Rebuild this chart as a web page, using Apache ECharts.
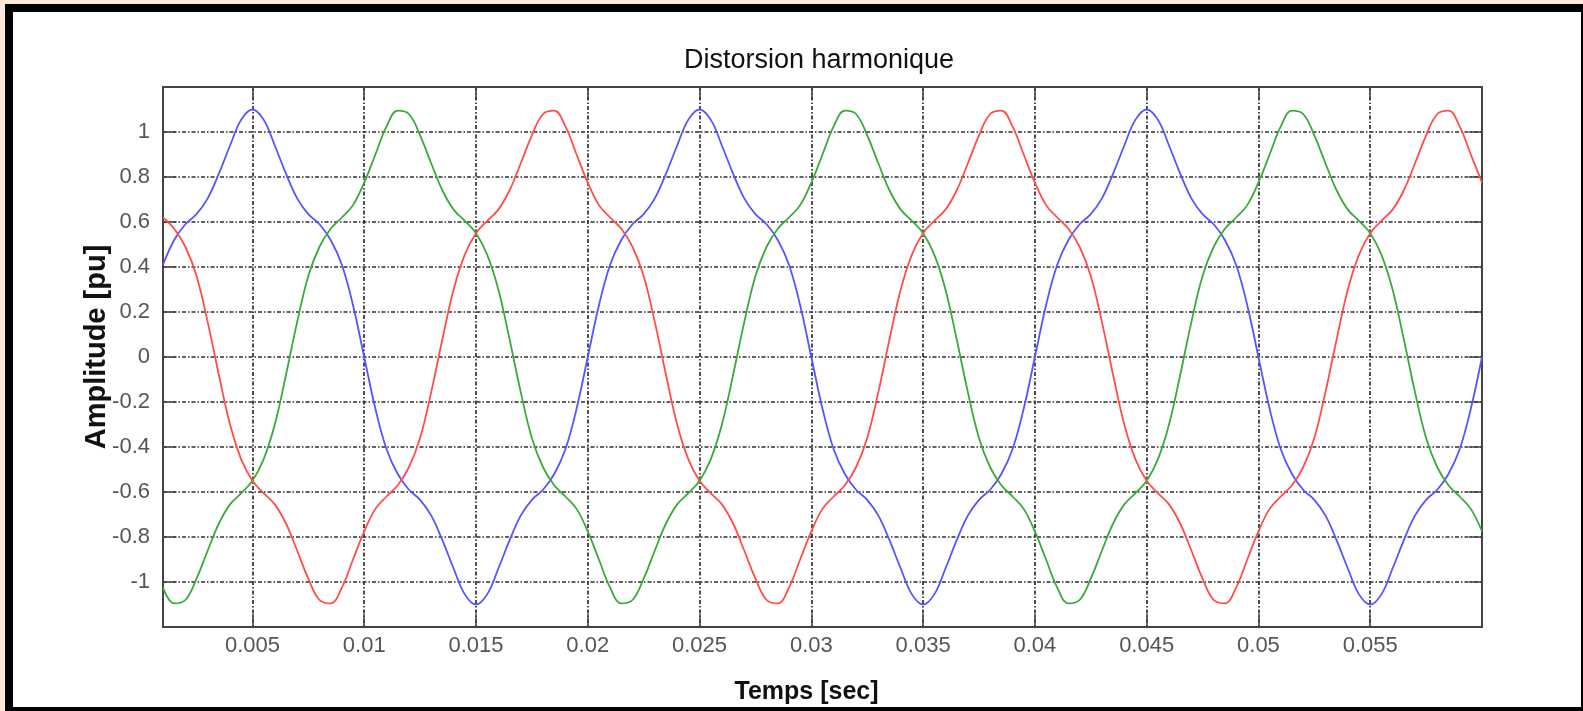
<!DOCTYPE html>
<html>
<head>
<meta charset="utf-8">
<title>Distorsion harmonique</title>
<script src="https://cdn.jsdelivr.net/npm/echarts@6/dist/echarts.min.js"></script>
<style>
  html, body { margin: 0; padding: 0; width: 1583px; height: 711px; overflow: hidden; background: #fde9db; }
  #frame { position: absolute; left: 5px; top: 4px; width: 1578px; height: 707px; background: #000; }
  #paper { position: absolute; left: 13px; top: 12px; width: 1568px; height: 695px; background: #fff; }
  #chart { position: absolute; left: 0; top: 0; width: 1583px; height: 711px; }
</style>
</head>
<body>
<div id="frame"></div>
<div id="paper"></div>
<div id="chart"></div>
<script>
// Sample instants (s)
const time = [
  0.001, 0.0015, 0.002, 0.0025, 0.003, 0.0035, 0.004, 0.0045, 0.005, 0.0055,
  0.006, 0.0065, 0.007, 0.0075, 0.008, 0.0085, 0.009, 0.0095, 0.01, 0.0105,
  0.011, 0.0115, 0.012, 0.0125, 0.013, 0.0135, 0.014, 0.0145, 0.015, 0.0155,
  0.016, 0.0165, 0.017, 0.0175, 0.018, 0.0185, 0.019, 0.0195, 0.02, 0.0205,
  0.021, 0.0215, 0.022, 0.0225, 0.023, 0.0235, 0.024, 0.0245, 0.025, 0.0255,
  0.026, 0.0265, 0.027, 0.0275, 0.028, 0.0285, 0.029, 0.0295, 0.03, 0.0305,
  0.031, 0.0315, 0.032, 0.0325, 0.033, 0.0335, 0.034, 0.0345, 0.035, 0.0355,
  0.036, 0.0365, 0.037, 0.0375, 0.038, 0.0385, 0.039, 0.0395, 0.04, 0.0405,
  0.041, 0.0415, 0.042, 0.0425, 0.043, 0.0435, 0.044, 0.0445, 0.045, 0.0455,
  0.046, 0.0465, 0.047, 0.0475, 0.048, 0.0485, 0.049, 0.0495, 0.05, 0.0505,
  0.051, 0.0515, 0.052, 0.0525, 0.053, 0.0535, 0.054, 0.0545, 0.055, 0.0555,
  0.056, 0.0565, 0.057, 0.0575, 0.058, 0.0585, 0.059, 0.0595, 0.06
];

// Phase voltages (pu)
const phaseBlue = [
  0.41, 0.52, 0.59, 0.635, 0.705, 0.815, 0.94, 1.055, 1.10, 1.055,
  0.94, 0.815, 0.705, 0.635, 0.59, 0.52, 0.41, 0.23, 0, -0.23,
  -0.41, -0.52, -0.59, -0.635, -0.705, -0.815, -0.94, -1.055, -1.10, -1.055,
  -0.94, -0.815, -0.705, -0.635, -0.59, -0.52, -0.41, -0.23, 0, 0.23,
  0.41, 0.52, 0.59, 0.635, 0.705, 0.815, 0.94, 1.055, 1.10, 1.055,
  0.94, 0.815, 0.705, 0.635, 0.59, 0.52, 0.41, 0.23, 0, -0.23,
  -0.41, -0.52, -0.59, -0.635, -0.705, -0.815, -0.94, -1.055, -1.10, -1.055,
  -0.94, -0.815, -0.705, -0.635, -0.59, -0.52, -0.41, -0.23, 0, 0.23,
  0.41, 0.52, 0.59, 0.635, 0.705, 0.815, 0.94, 1.055, 1.10, 1.055,
  0.94, 0.815, 0.705, 0.635, 0.59, 0.52, 0.41, 0.23, 0, -0.23,
  -0.41, -0.52, -0.59, -0.635, -0.705, -0.815, -0.94, -1.055, -1.10, -1.055,
  -0.94, -0.815, -0.705, -0.635, -0.59, -0.52, -0.41, -0.23, 0
];

const phaseGreen = [
  -1.025, -1.095, -1.08, -0.985, -0.86, -0.74, -0.655, -0.605, -0.55, -0.455,
  -0.30, -0.08, 0.155, 0.36, 0.49, 0.57, 0.62, 0.675, 0.775, 0.90,
  1.025, 1.095, 1.08, 0.985, 0.86, 0.74, 0.655, 0.605, 0.55, 0.455,
  0.30, 0.08, -0.155, -0.36, -0.49, -0.57, -0.62, -0.675, -0.775, -0.90,
  -1.025, -1.095, -1.08, -0.985, -0.86, -0.74, -0.655, -0.605, -0.55, -0.455,
  -0.30, -0.08, 0.155, 0.36, 0.49, 0.57, 0.62, 0.675, 0.775, 0.90,
  1.025, 1.095, 1.08, 0.985, 0.86, 0.74, 0.655, 0.605, 0.55, 0.455,
  0.30, 0.08, -0.155, -0.36, -0.49, -0.57, -0.62, -0.675, -0.775, -0.90,
  -1.025, -1.095, -1.08, -0.985, -0.86, -0.74, -0.655, -0.605, -0.55, -0.455,
  -0.30, -0.08, 0.155, 0.36, 0.49, 0.57, 0.62, 0.675, 0.775, 0.90,
  1.025, 1.095, 1.08, 0.985, 0.86, 0.74, 0.655, 0.605, 0.55, 0.455,
  0.30, 0.08, -0.155, -0.36, -0.49, -0.57, -0.62, -0.675, -0.775
];

const phaseRed = [
  0.62, 0.57, 0.49, 0.36, 0.155, -0.08, -0.30, -0.455, -0.55, -0.605,
  -0.655, -0.74, -0.86, -0.985, -1.08, -1.095, -1.025, -0.90, -0.775, -0.675,
  -0.62, -0.57, -0.49, -0.36, -0.155, 0.08, 0.30, 0.455, 0.55, 0.605,
  0.655, 0.74, 0.86, 0.985, 1.08, 1.095, 1.025, 0.90, 0.775, 0.675,
  0.62, 0.57, 0.49, 0.36, 0.155, -0.08, -0.30, -0.455, -0.55, -0.605,
  -0.655, -0.74, -0.86, -0.985, -1.08, -1.095, -1.025, -0.90, -0.775, -0.675,
  -0.62, -0.57, -0.49, -0.36, -0.155, 0.08, 0.30, 0.455, 0.55, 0.605,
  0.655, 0.74, 0.86, 0.985, 1.08, 1.095, 1.025, 0.90, 0.775, 0.675,
  0.62, 0.57, 0.49, 0.36, 0.155, -0.08, -0.30, -0.455, -0.55, -0.605,
  -0.655, -0.74, -0.86, -0.985, -1.08, -1.095, -1.025, -0.90, -0.775, -0.675,
  -0.62, -0.57, -0.49, -0.36, -0.155, 0.08, 0.30, 0.455, 0.55, 0.605,
  0.655, 0.74, 0.86, 0.985, 1.08, 1.095, 1.025, 0.90, 0.775
];

// Axis ticks and their labels
const xTicks = [0.005, 0.01, 0.015, 0.02, 0.025, 0.03, 0.035, 0.04, 0.045, 0.05, 0.055];
const xTickLabels = ['0.005', '0.01', '0.015', '0.02', '0.025', '0.03', '0.035', '0.04', '0.045', '0.05', '0.055'];
const yTicks = [-1, -0.8, -0.6, -0.4, -0.2, 0, 0.2, 0.4, 0.6, 0.8, 1];
const yTickLabels = ['-1', '-0.8', '-0.6', '-0.4', '-0.2', '0', '0.2', '0.4', '0.6', '0.8', '1'];

const FONT = "'Liberation Sans', Arial, Helvetica, sans-serif";
const AXIS_COLOR = '#444';

function tickText(ticks, labels) {
  return function (v) {
    for (let i = 0; i < ticks.length; i++) {
      if (Math.abs(ticks[i] - v) < 1e-9) return labels[i];
    }
    return '';
  };
}

const boxLine = { show: true, onZero: false, lineStyle: { color: AXIS_COLOR, width: 2 } };
// dash-dot grid, drawn dark as in the plotting tool
const gridLine = { show: true, lineStyle: { color: '#2e2e2e', width: 1.7, type: [4, 2, 1.5, 2] } };

function pairs(values) {
  return time.map((t, i) => [t, values[i]]);
}

const chart = echarts.init(document.getElementById('chart'), null, { renderer: 'canvas' });

chart.setOption({
  animation: false,
  backgroundColor: 'transparent',
  title: {
    text: 'Distorsion harmonique',
    left: 819,
    top: 47,
    textAlign: 'center',
    padding: 0,
    textStyle: { fontFamily: FONT, fontSize: 27, fontWeight: 'normal', color: '#111' }
  },
  grid: { left: 163, right: 101, top: 87, bottom: 84 },
  xAxis: [
    {
      type: 'value', position: 'bottom', min: 0.001, max: 0.06,
      axisLine: boxLine,
      axisTick: { show: true, inside: true, length: 13, customValues: xTicks,
                  lineStyle: { color: AXIS_COLOR, width: 1.5 } },
      axisLabel: { customValues: xTicks, formatter: tickText(xTicks, xTickLabels),
                   margin: 8, fontSize: 22, color: '#555', fontFamily: FONT },
      splitLine: gridLine,
      name: 'Temps [sec]', nameLocation: 'middle', nameGap: 53,
      nameTextStyle: { fontFamily: FONT, fontSize: 25, fontWeight: 'bold', color: '#111',
                       padding: [0, 32, 0, 0] }
    },
    {
      type: 'value', position: 'top', min: 0.001, max: 0.06,
      axisLine: boxLine,
      axisTick: { show: true, inside: true, length: 13, customValues: xTicks,
                  lineStyle: { color: AXIS_COLOR, width: 1.5 } },
      axisLabel: { show: false },
      splitLine: { show: false }
    }
  ],
  yAxis: [
    {
      type: 'value', position: 'left', min: -1.2, max: 1.2, interval: 0.2,
      axisLine: boxLine,
      axisTick: { show: true, inside: true, length: 13, customValues: yTicks,
                  lineStyle: { color: AXIS_COLOR, width: 1.5 } },
      axisLabel: { customValues: yTicks, formatter: tickText(yTicks, yTickLabels),
                   margin: 13, fontSize: 22, color: '#555', fontFamily: FONT },
      splitLine: gridLine,
      name: 'Amplitude [pu]', nameLocation: 'middle', nameGap: 52,
      nameMoveOverlap: false,
      nameTextStyle: { fontFamily: FONT, fontSize: 29, fontWeight: 'bold', color: '#111',
                       padding: [0, 0, 0, 20] }
    },
    {
      type: 'value', position: 'right', min: -1.2, max: 1.2, interval: 0.2,
      axisLine: boxLine,
      axisTick: { show: true, inside: true, length: 13, customValues: yTicks,
                  lineStyle: { color: AXIS_COLOR, width: 1.5 } },
      axisLabel: { show: false },
      splitLine: { show: false }
    }
  ],
  series: [
    {
      name: 'Phase A', type: 'line', data: pairs(phaseBlue), smooth: 0.4,
      showSymbol: false, clip: true,
      lineStyle: { color: '#5555ff', width: 1.8 }, itemStyle: { color: '#5555ff' }
    },
    {
      name: 'Phase B', type: 'line', data: pairs(phaseGreen), smooth: 0.4,
      showSymbol: false, clip: true,
      lineStyle: { color: '#3aaa3a', width: 1.8 }, itemStyle: { color: '#3aaa3a' }
    },
    {
      name: 'Phase C', type: 'line', data: pairs(phaseRed), smooth: 0.4,
      showSymbol: false, clip: true,
      lineStyle: { color: '#ff4d4d', width: 1.8 }, itemStyle: { color: '#ff4d4d' }
    }
  ]
});
</script>
</body>
</html>
